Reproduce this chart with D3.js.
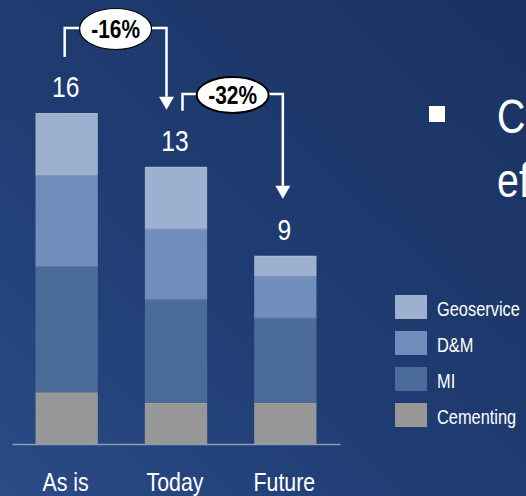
<!DOCTYPE html>
<html>
<head>
<meta charset="utf-8">
<script src="https://cdn.jsdelivr.net/npm/d3@7"></script>
<style>
  html, body { margin: 0; padding: 0; background: #1e3a6e; }
  svg { display: block; }
  text { font-family: "Liberation Sans", Arial, sans-serif; }
</style>
</head>
<body>
<svg id="chart" width="526" height="496"></svg>
<script>
// Cost per scenario, split by product line
const categories = ["As is", "Today", "Future"];
const seriesNames = ["Cementing", "MI", "D&M", "Geoservice"];
const cementing  = [2.5, 2.0, 2.0];
const mi         = [6.1, 5.0, 4.1];
const dm         = [4.4, 3.4, 2.0];
const geoservice = [3.0, 3.0, 1.0];
const seriesColors = ["#979797", "#4b6b9b", "#6f8ebb", "#9eb0cf"];
const legendOrder = ["Geoservice", "D&M", "MI", "Cementing"];
const bulletLines = ["C", "ef"];

const width = 526, height = 496;
const narrow = 0.82; // horizontal squeeze for a condensed look
const svg = d3.select("#chart");

// Background gradient
const defs = svg.append("defs");
const bg = defs.append("linearGradient").attr("id", "bg")
  .attr("x1", "0%").attr("y1", "100%").attr("x2", "100%").attr("y2", "0%");
bg.append("stop").attr("offset", "0%").attr("stop-color", "#2a4b86");
bg.append("stop").attr("offset", "45%").attr("stop-color", "#1f3c72");
bg.append("stop").attr("offset", "100%").attr("stop-color", "#1b3262");
svg.append("rect").attr("width", width).attr("height", height).attr("fill", "url(#bg)");

// Table of rows for stacking
const rows = categories.map((c, i) => ({
  category: c,
  "Cementing": cementing[i],
  "MI": mi[i],
  "D&M": dm[i],
  "Geoservice": geoservice[i]
}));
const totals = rows.map(r => seriesNames.reduce((s, k) => s + r[k], 0));

const baseY = 444;
const x = d3.scaleBand().domain(categories).range([12, 340])
  .paddingInner(0.43).paddingOuter(0.215);
const y = d3.scaleLinear().domain([0, 16]).range([baseY, 113]);
const color = d3.scaleOrdinal().domain(seriesNames).range(seriesColors);
const cx = c => x(c) + x.bandwidth() / 2 - 1;

const stacked = d3.stack().keys(seriesNames)(rows);

const g = svg.append("g");
g.selectAll("g.series").data(stacked).join("g")
  .attr("class", "series")
  .attr("fill", d => color(d.key))
  .selectAll("rect").data(d => d).join("rect")
  .attr("x", d => x(d.data.category))
  .attr("width", x.bandwidth())
  .attr("y", d => y(d[1]))
  .attr("height", d => y(d[0]) - y(d[1]));

// thin separators between segments
g.selectAll("g.series").selectAll("line.sep").data(d => d).join("line")
  .attr("class", "sep")
  .attr("x1", d => x(d.data.category))
  .attr("x2", d => x(d.data.category) + x.bandwidth())
  .attr("y1", d => y(d[1]) + 0.5).attr("y2", d => y(d[1]) + 0.5)
  .attr("stroke", "#ffffff").attr("stroke-opacity", 0.12).attr("stroke-width", 1);

// Baseline axis
const xAxis = d3.axisBottom(x).tickSize(0).tickPadding(0);
const axisG = svg.append("g").attr("transform", `translate(0,${baseY})`).call(xAxis);
axisG.select(".domain").attr("stroke", "#8e9ab0").attr("stroke-width", 1.5);
axisG.selectAll(".tick").attr("transform", d => `translate(${cx(d)},0)`);
axisG.selectAll(".tick text")
  .attr("fill", "#ffffff")
  .attr("font-size", 26)
  .attr("font-family", "'Liberation Sans', Arial, sans-serif")
  .attr("dy", 0)
  .attr("y", 0)
  .attr("transform", `translate(0,47) scale(${narrow},1)`);

// Total labels
const fmtTotal = d3.format(".0f");
svg.selectAll("text.total").data(rows).join("text")
  .attr("class", "total")
  .attr("transform", (d, i) => `translate(${cx(d.category)},${y(totals[i]) - 16}) scale(${narrow},1)`)
  .attr("text-anchor", "middle")
  .attr("fill", "#ffffff")
  .attr("font-size", 30)
  .text((d, i) => fmtTotal(totals[i]));

// Change brackets with arrow and percentage badge
function bracket(i, j, level, startDx, endDx, ry, sw) {
  const xs = cx(categories[i]) + startDx;
  const xe = cx(categories[j]) + endDx;
  const ys = y(totals[i]) - 56;
  const ye = y(totals[j]) - 57;
  const head = 13;
  const a = svg.append("g");
  a.append("path")
    .attr("d", `M${xs},${ys} V${level} H${xe} V${ye - head}`)
    .attr("fill", "none").attr("stroke", "#ffffff").attr("stroke-width", 2.5);
  a.append("path")
    .attr("d", `M${xe - 7.5},${ye - head} L${xe + 7.5},${ye - head} L${xe},${ye} Z`)
    .attr("fill", "#ffffff");
  const mx = (xs + xe) / 2;
  a.append("ellipse")
    .attr("cx", mx).attr("cy", level + 1)
    .attr("rx", 36).attr("ry", ry)
    .attr("fill", "#ffffff").attr("stroke", "#000000").attr("stroke-width", sw);
  const pct = Math.round((totals[j] / totals[i] - 1) * 100);
  a.append("text")
    .attr("transform", `translate(${mx},${level + 9.5}) scale(${narrow},1)`)
    .attr("text-anchor", "middle")
    .attr("fill", "#000000")
    .attr("font-weight", "bold")
    .attr("font-size", 25.5)
    .text(`${pct}%`);
}
bracket(0, 1, 28, -1, -8.5, 20.5, 1.2);
bracket(1, 2, 94, 7.5, -1.5, 18, 2);

// Legend
const legend = svg.append("g").attr("transform", "translate(395,295)");
const li = legend.selectAll("g").data(legendOrder).join("g")
  .attr("transform", (d, i) => `translate(0,${i * 36})`);
li.append("rect").attr("width", 32).attr("height", 24).attr("fill", d => color(d));
li.append("text")
  .attr("transform", `translate(42,21) scale(${narrow},1)`)
  .attr("fill", "#ffffff").attr("font-size", 20)
  .text(d => d);

// Bullet text on the right
svg.append("rect").attr("x", 429).attr("y", 106).attr("width", 16).attr("height", 16).attr("fill", "#ffffff");
svg.selectAll("text.bullet").data(bulletLines).join("text")
  .attr("class", "bullet")
  .attr("transform", (d, i) => `translate(497,${133 + i * 64}) scale(${narrow},1)`)
  .attr("fill", "#ffffff")
  .attr("font-size", 48)
  .text(d => d);
</script>
</body>
</html>
